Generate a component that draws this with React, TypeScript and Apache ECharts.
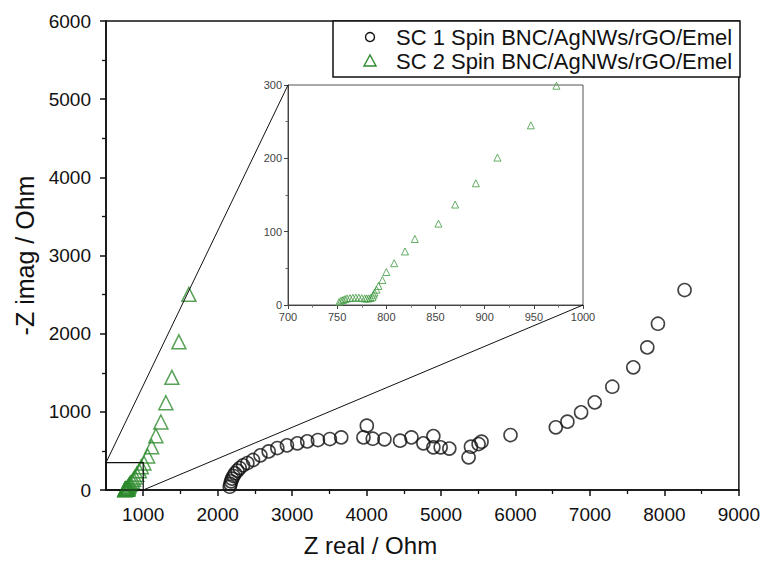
import React, { useEffect, useRef } from "react";
import * as echarts from "echarts";

// ---- data ----
const sc1Name = "SC 1 Spin BNC/AgNWs/rGO/Emel";
const sc2Name = "SC 2 Spin BNC/AgNWs/rGO/Emel";

const sc1: [number, number][] = [
  [2162, 42], [2171, 77], [2180, 111], [2193, 145], [2212, 179], [2233, 213],
  [2265, 247], [2296, 281], [2341, 316], [2399, 345], [2475, 384], [2574, 443],
  [2685, 494], [2801, 537], [2930, 571], [3070, 597], [3203, 622], [3346, 639],
  [3507, 652], [3659, 673], [3958, 673], [4003, 823], [4083, 656], [4240, 648],
  [4450, 631], [4602, 673], [4763, 597], [4897, 690], [4897, 546], [4995, 546],
  [5111, 530], [5370, 418], [5402, 554], [5504, 588], [5544, 618], [5933, 703],
  [6541, 802], [6697, 874], [6881, 993], [7064, 1121], [7300, 1321], [7582, 1569],
  [7770, 1824], [7913, 2127], [8271, 2558],
];

const sc2: [number, number][] = [
  [752, 4], [754, 6], [756, 7], [758, 8], [760, 9], [763, 9.5], [766, 10],
  [769, 10], [772, 10], [775, 9.5], [778, 9], [780, 9], [782, 9], [784, 9.5],
  [786, 11], [787, 14], [788, 17], [790, 21], [792, 26], [796, 34], [800, 45],
  [808, 57], [819, 73], [829, 90], [853, 111], [870, 137], [891, 166], [913, 201],
  [947, 245], [973, 299], [1009, 345], [1059, 435], [1113, 554], [1170, 694],
  [1237, 870], [1304, 1116], [1385, 1441], [1479, 1896], [1613, 2503],
];

const xMajorTicks = [1000, 2000, 3000, 4000, 5000, 6000, 7000, 8000, 9000];
const xMinorTicks = [1500, 2500, 3500, 4500, 5500, 6500, 7500, 8500];

const mainX = { min: 500, max: 9000 };
const mainY = { min: 0, max: 6000, interval: 1000 };
const insetX = { min: 700, max: 1000, interval: 50 };
const insetY = { min: 0, max: 300, interval: 100 };
const zoomBox = { x0: 500, x1: 1000, y0: 0, y1: 350 };

const FONT = "'Liberation Sans', Arial, Helvetica, sans-serif";
const GREEN = "#2e8b2e";
const plain = (v: number) => String(v);

export default function App() {
  const ref = useRef<HTMLDivElement>(null);

  useEffect(() => {
    if (!ref.current) return;
    const chart = echarts.init(ref.current, null, { renderer: "svg", width: 763, height: 564 });

    const option: any = {
      animation: false,
      backgroundColor: "#fff",
      textStyle: { fontFamily: FONT },
      grid: [
        { left: 106, top: 21, width: 634, height: 469, show: true, borderColor: "#111", borderWidth: 1.5, backgroundColor: "#fff" },
        { left: 288, top: 85, width: 295, height: 220, show: true, borderColor: "#555", borderWidth: 1, backgroundColor: "#fff" },
      ],
      xAxis: [
        {
          type: "value", gridIndex: 0, min: mainX.min, max: mainX.max, position: "bottom",
          name: "Z real / Ohm", nameLocation: "middle", nameGap: 43,
          nameTextStyle: { fontSize: 24, color: "#111", fontFamily: FONT, padding: [0, 104, 0, 0] },
          axisLine: { show: true, lineStyle: { color: "#111", width: 1.6 } },
          axisTick: { show: true, customValues: xMajorTicks, length: 6, lineStyle: { color: "#111", width: 1.5 } },
          axisLabel: { customValues: xMajorTicks, formatter: plain, fontSize: 19, color: "#111", margin: 15, fontFamily: FONT },
          splitLine: { show: false },
        },
        {
          type: "value", gridIndex: 0, min: mainX.min, max: mainX.max, position: "bottom",
          axisLine: { show: false },
          axisTick: { show: true, customValues: xMinorTicks, length: 4, lineStyle: { color: "#111", width: 1.3 } },
          axisLabel: { show: false },
          splitLine: { show: false },
        },
        {
          type: "value", gridIndex: 1, min: insetX.min, max: insetX.max, interval: insetX.interval,
          axisLine: { show: true, lineStyle: { color: "#444", width: 1 } },
          axisTick: { show: true, length: 4, lineStyle: { color: "#444" } },
          minorTick: { show: true, splitNumber: 2, length: 2.5, lineStyle: { color: "#666" } },
          axisLabel: { formatter: plain, fontSize: 11, color: "#444", margin: 6, fontFamily: FONT },
          splitLine: { show: false },
        },
      ],
      yAxis: [
        {
          type: "value", gridIndex: 0, min: mainY.min, max: mainY.max, interval: mainY.interval,
          name: "-Z imag / Ohm", nameLocation: "middle", nameGap: 62, nameRotate: 90,
          nameTextStyle: { fontSize: 25, color: "#111", fontFamily: FONT },
          axisLine: { show: true, lineStyle: { color: "#111", width: 1.6 } },
          axisTick: { show: true, length: 6, lineStyle: { color: "#111", width: 1.5 } },
          minorTick: { show: true, splitNumber: 2, length: 4, lineStyle: { color: "#111", width: 1.3 } },
          axisLabel: { formatter: plain, fontSize: 19, color: "#111", margin: 15, fontFamily: FONT },
          splitLine: { show: false },
        },
        {
          type: "value", gridIndex: 1, min: insetY.min, max: insetY.max, interval: insetY.interval,
          axisLine: { show: true, lineStyle: { color: "#444", width: 1 } },
          axisTick: { show: true, length: 4, lineStyle: { color: "#444" } },
          minorTick: { show: true, splitNumber: 2, length: 2.5, lineStyle: { color: "#666" } },
          axisLabel: { formatter: plain, fontSize: 11, color: "#444", margin: 6, fontFamily: FONT },
          splitLine: { show: false },
        },
      ],
      series: [
        {
          name: sc1Name, type: "scatter", xAxisIndex: 0, yAxisIndex: 0, clip: true,
          symbol: "circle", symbolSize: 13,
          itemStyle: { color: "rgba(0,0,0,0)", borderColor: "#111", borderWidth: 1.6 },
          data: sc1,
        },
        {
          name: sc2Name, type: "scatter", xAxisIndex: 0, yAxisIndex: 0, clip: true,
          symbol: "triangle", symbolSize: 14,
          itemStyle: { color: "rgba(0,0,0,0)", borderColor: GREEN, borderWidth: 1.5 },
          data: sc2,
        },
        {
          name: sc2Name + " (inset)", type: "scatter", xAxisIndex: 2, yAxisIndex: 1, clip: true,
          symbol: "triangle", symbolSize: 7,
          itemStyle: { color: "rgba(0,0,0,0)", borderColor: "#3f9a3f", borderWidth: 1 },
          data: sc2,
        },
      ],
    };
    chart.setOption(option);

    const px = (g: number, pt: [number, number]) => chart.convertToPixel({ gridIndex: g } as any, pt) as number[];
    const b0 = px(0, [zoomBox.x0, zoomBox.y1]);
    const b1 = px(0, [zoomBox.x1, zoomBox.y0]);
    const i0 = px(1, [insetX.min, insetY.max]);
    const i1 = px(1, [insetX.max, insetY.min]);

    const legX = 333, legY = 21, legW = 407, legH = 56;
    chart.setOption({
      graphic: [
        { type: "rect", shape: { x: b0[0], y: b0[1], width: b1[0] - b0[0], height: b1[1] - b0[1] }, style: { fill: "none", stroke: "#111", lineWidth: 1.2 }, z: 10 },
        { type: "line", shape: { x1: b0[0], y1: b0[1], x2: i0[0], y2: i0[1] }, style: { stroke: "#111", lineWidth: 1 }, z: 10 },
        { type: "line", shape: { x1: b1[0], y1: b1[1], x2: i1[0], y2: i1[1] }, style: { stroke: "#111", lineWidth: 1 }, z: 10 },
        { type: "rect", shape: { x: legX, y: legY, width: legW, height: legH }, style: { fill: "#fff", stroke: "#111", lineWidth: 1.5 }, z: 20 },
        { type: "circle", shape: { cx: 370, cy: 37, r: 4.5 }, style: { fill: "none", stroke: "#111", lineWidth: 1.4 }, z: 21 },
        { type: "polygon", shape: { points: [[364, 66], [376, 66], [370, 55]] }, style: { fill: "none", stroke: GREEN, lineWidth: 1.4 }, z: 21 },
        { type: "text", x: 396, y: 37, style: { text: sc1Name, font: `22px ${FONT}`, fill: "#111", verticalAlign: "middle", align: "left" }, z: 21 },
        { type: "text", x: 396, y: 61, style: { text: sc2Name, font: `22px ${FONT}`, fill: "#111", verticalAlign: "middle", align: "left" }, z: 21 },
      ],
    });

    return () => chart.dispose();
  }, []);

  return <div ref={ref} style={{ position: "fixed", left: 0, top: 0, width: 763, height: 564 }} />;
}
